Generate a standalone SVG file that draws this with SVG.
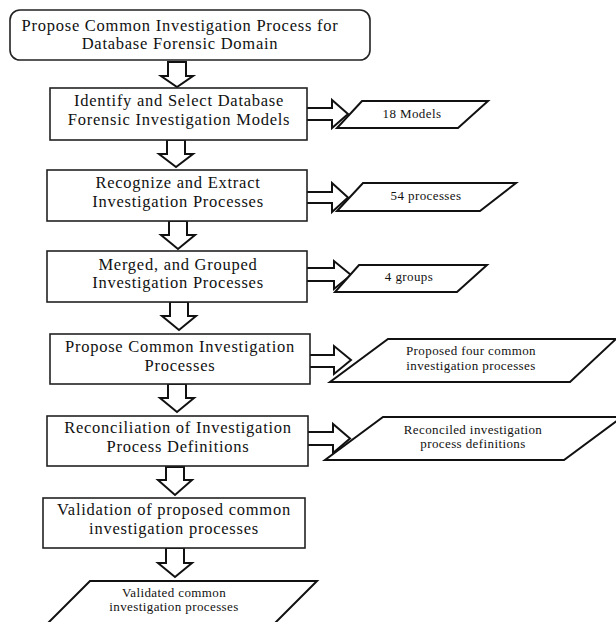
<svg xmlns="http://www.w3.org/2000/svg" width="616" height="622" viewBox="0 0 616 622">
<style>
.box{fill:#fff;stroke:#222;stroke-width:1.6}
.para{fill:#fff;stroke:#111;stroke-width:2}
.arr{fill:#fff;stroke:#111;stroke-width:2;stroke-linejoin:miter}
text{font-family:'Liberation Serif','DejaVu Serif',serif;fill:#111;text-anchor:middle}
.t{font-size:16.5px;letter-spacing:0.75px}
.s{font-size:13px;letter-spacing:0.4px}
</style>
<rect width="616" height="622" fill="#fff"/>
<g id="connectors">
<path class="arr" d="M168,62 H186 V76 H193 L177,87 L161,76 H168 Z"/>
<path class="arr" d="M167,140 H185 V154 H193 L176,167 L159,154 H167 Z"/>
<path class="arr" d="M169,221 H187 V235 H195 L178,249 L161,235 H169 Z"/>
<path class="arr" d="M170,302 H188 V316 H196 L179,330 L162,316 H170 Z"/>
<path class="arr" d="M168,384 H186 V398 H194 L177,412 L160,398 H168 Z"/>
<path class="arr" d="M166,467 H184 V480 H192 L175,495 L158,480 H166 Z"/>
<path class="arr" d="M166,548 H184 V563 H192 L175,577 L158,563 H166 Z"/>
<path class="arr" d="M307,108 H332 V100 L348,114 L332,128 V120 H307"/>
<path class="arr" d="M307,192 H332 V183 L348,197.5 L332,212 V203 H307"/>
<path class="arr" d="M307,268 H334 V261 L351,275 L334,289 V281 H307"/>
<path class="arr" d="M310,355 H334 V346 L351,360 L334,374 V367 H310"/>
<path class="arr" d="M308,432 H333 V424 L350,438.5 L333,453 V445 H308"/>
</g>
<g id="n0">
<rect class="box" x="10" y="10" width="360" height="50" rx="10" stroke-width="2"/>
<text class="t" x="180" y="31">Propose Common Investigation Process for</text>
<text class="t" x="180" y="49">Database Forensic Domain</text>
</g>
<g id="n1">
<rect class="box" x="50" y="88" width="257" height="52"/>
<text class="t" x="179" y="106">Identify and Select Database</text>
<text class="t" x="179" y="125">Forensic Investigation Models</text>
</g>
<g id="o1">
<polygon class="para" points="362,101 488,101 458,128 337,128"/>
<text class="s" x="412" y="118">18 Models</text>
</g>
<g id="n2">
<rect class="box" x="47" y="170" width="260" height="51"/>
<text class="t" x="178" y="188">Recognize and Extract</text>
<text class="t" x="178" y="207">Investigation Processes</text>
</g>
<g id="o2">
<polygon class="para" points="363,183 516,183 480,211 337,211"/>
<text class="s" x="426" y="200">54 processes</text>
</g>
<g id="n3">
<rect class="box" x="47" y="251" width="260" height="51"/>
<text class="t" x="178" y="270">Merged, and Grouped</text>
<text class="t" x="178" y="288">Investigation Processes</text>
</g>
<g id="o3">
<polygon class="para" points="359,265 487,265 457,292 335,292"/>
<text class="s" x="409" y="281">4 groups</text>
</g>
<g id="n4">
<rect class="box" x="50" y="334" width="260" height="50"/>
<text class="t" x="180" y="352">Propose Common Investigation</text>
<text class="t" x="180" y="371">Processes</text>
</g>
<g id="o4">
<polygon class="para" points="388,339 616,339 570,382 330,382"/>
<text class="s" x="471" y="355">Proposed four common</text>
<text class="s" x="471" y="370">investigation processes</text>
</g>
<g id="n5">
<rect class="box" x="47" y="416" width="261" height="50"/>
<text class="t" x="178" y="433">Reconciliation of Investigation</text>
<text class="t" x="178" y="452">Process Definitions</text>
</g>
<g id="o5">
<polygon class="para" points="383,417 622,417 564,460 325,460"/>
<text class="s" x="473" y="434">Reconciled investigation</text>
<text class="s" x="473" y="448">process definitions</text>
</g>
<g id="n6">
<rect class="box" x="43" y="498" width="262" height="50"/>
<text class="t" x="174" y="515">Validation of proposed common</text>
<text class="t" x="174" y="534">investigation processes</text>
</g>
<g id="o6">
<polygon class="para" points="90,581 317,581 258,640 31,640"/>
<text class="s" x="174" y="597">Validated common</text>
<text class="s" x="174" y="611">investigation processes</text>
</g>
</svg>
